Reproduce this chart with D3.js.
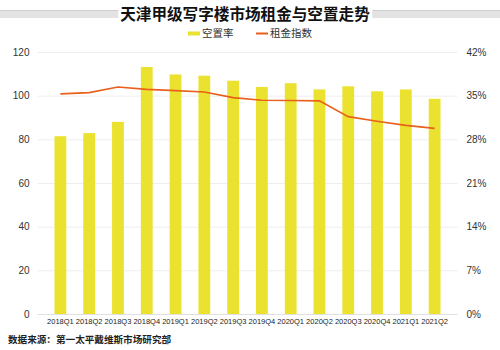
<!DOCTYPE html>
<html><head><meta charset="utf-8">
<script src="https://cdn.jsdelivr.net/npm/d3@7"></script>
<style>
body{margin:0;background:#fff;}
text{font-family:"Liberation Sans","Noto Sans CJK SC",sans-serif;}
</style></head>
<body><svg id="c" width="500" height="350"></svg>
<script>
const categories=["2018Q1","2018Q2","2018Q3","2018Q4","2019Q1","2019Q2","2019Q3","2019Q4","2020Q1","2020Q2","2020Q3","2020Q4","2021Q1","2021Q2"];
const vacancy=[28.5,29.0,30.8,39.6,38.4,38.2,37.4,36.4,37.0,36.0,36.5,35.7,36.0,34.5];
const rentIndex=[100.8,101.4,104.0,102.9,102.3,101.7,99.1,97.9,97.8,97.6,90.4,88.3,86.4,85.0];
const leftTicks=[0,20,40,60,80,100,120];
const rightTicks=[0,7,14,21,28,35,42];
const title="天津甲级写字楼市场租金与空置走势";
const source="数据来源：第一太平戴维斯市场研究部";

const svg=d3.select("#c");
const L=37.5,R=457.5,T=52,B=314;
const x=d3.scaleBand().domain(categories).range([L,R]).padding(0.59);
const yL=d3.scaleLinear().domain([0,120]).range([B,T]);
const yR=d3.scaleLinear().domain([0,42]).range([B,T]);

// title band
svg.append("rect").attr("x",0).attr("y",10).attr("width",500).attr("height",8).attr("fill","#e3e3e3");
svg.append("rect").attr("x",0).attr("y",10).attr("width",500).attr("height",1).attr("fill","#d0d0d0");
const tt=svg.append("text").attr("x",245).attr("y",20).attr("text-anchor","middle")
 .attr("font-size",15.6).attr("font-weight","bold").attr("fill","#111").text(title);
const bb=tt.node().getBBox();
svg.insert("rect","text").attr("x",bb.x-2).attr("y",9).attr("width",bb.width+4).attr("height",11).attr("fill","#fff");

// legend
const lg=svg.append("g");
lg.append("rect").attr("x",188).attr("y",31.5).attr("width",12).attr("height",4).attr("fill","#ebe22f");
lg.append("text").attr("x",202).attr("y",37.2).attr("font-size",10.5).attr("fill","#333").text("空置率");
lg.append("rect").attr("x",256).attr("y",32.5).attr("width",12).attr("height",2).attr("fill","#e8601c");
lg.append("text").attr("x",270).attr("y",37.2).attr("font-size",10.5).attr("fill","#333").text("租金指数");

// grid
svg.append("g").selectAll("line").data(leftTicks).join("line")
 .attr("x1",L).attr("x2",R).attr("y1",d=>yL(d)+0.5).attr("y2",d=>yL(d)+0.5)
 .attr("stroke",d=>d===0?"#e0e0e0":"#eeeeee").attr("stroke-width",1);

// axes
const ax=svg.append("g").attr("transform",`translate(${L-8},0)`)
 .call(d3.axisLeft(yL).tickValues(leftTicks).tickSize(0).tickPadding(0));
ax.select(".domain").remove();
ax.selectAll("text").attr("font-size",10).attr("fill","#333");
const ar=svg.append("g").attr("transform",`translate(${R+9},0)`)
 .call(d3.axisRight(yR).tickValues(rightTicks).tickFormat(d=>d+"%").tickSize(0).tickPadding(0));
ar.select(".domain").remove();
ar.selectAll("text").attr("font-size",10).attr("fill","#333");
const axb=svg.append("g").attr("transform",`translate(0,${B+5})`)
 .call(d3.axisBottom(x).tickSize(0).tickPadding(0));
axb.select(".domain").remove();
axb.selectAll("text").attr("font-size",7.5).attr("fill","#222").attr("dy","0.71em");

// bars
svg.append("g").selectAll("rect").data(vacancy).join("rect")
 .attr("x",(d,i)=>x(categories[i])).attr("width",x.bandwidth())
 .attr("y",d=>yR(d)).attr("height",d=>B-yR(d)).attr("fill","#ebe22f");

// line
svg.append("path").datum(rentIndex)
 .attr("d",d3.line().x((d,i)=>x(categories[i])+x.bandwidth()/2).y(d=>yL(d)))
 .attr("fill","none").attr("stroke","#e8601c").attr("stroke-width",1.6);

// source
svg.append("text").attr("x",8).attr("y",343).attr("font-size",9.6).attr("font-weight","bold").attr("fill","#222").text(source);
</script></body></html>
